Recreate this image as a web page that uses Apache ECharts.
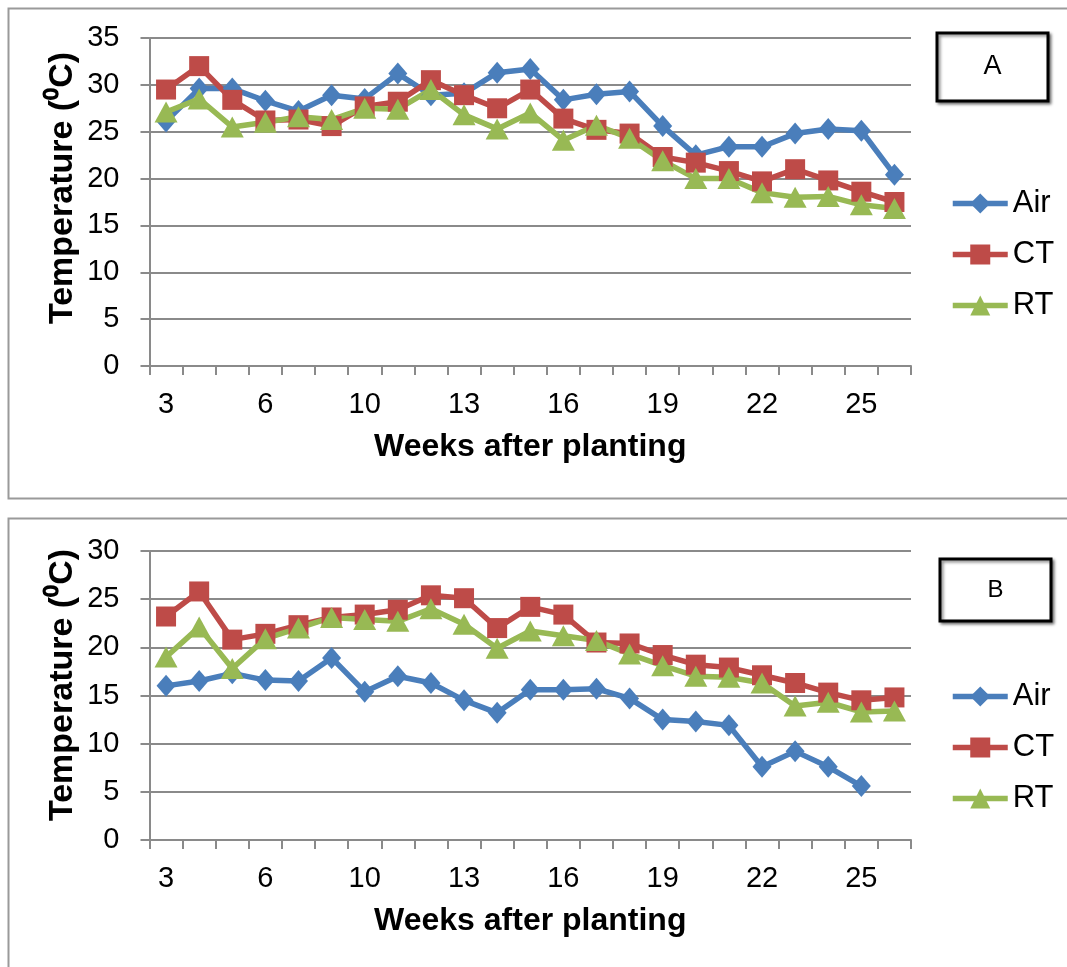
<!DOCTYPE html>
<html>
<head>
<meta charset="utf-8">
<script src="https://cdn.jsdelivr.net/npm/echarts@6/dist/echarts.min.js"></script>
<style>
  html, body { margin: 0; padding: 0; background: #fff; }
  #chart { width: 1067px; height: 967px; }
</style>
</head>
<body>
<div id="chart"></div>
<script>
// Weeks after planting (category axis, one week not sampled)
const weeks = ['3', '4', '5', '6', '7', '8', '10', '11', '12', '13', '14', '15',
               '16', '17', '18', '19', '20', '21', '22', '23', '24', '25', '26'];

// Panel A temperatures (°C)
const airA = [26.1, 29.6, 29.6, 28.3, 27.2, 28.9, 28.5, 31.2, 28.9, 29.1, 31.3, 31.7,
              28.4, 29.0, 29.3, 25.6, 22.5, 23.4, 23.4, 24.8, 25.3, 25.1, 20.4];
const ctA  = [29.5, 32.0, 28.4, 26.2, 26.3, 25.6, 27.7, 28.2, 30.5, 28.9, 27.5, 29.5,
              26.4, 25.2, 24.8, 22.3, 21.7, 20.8, 19.7, 21.0, 19.8, 18.6, 17.5];
const rtA  = [27.1, 28.5, 25.5, 26.0, 26.6, 26.3, 27.5, 27.4, 29.5, 26.8, 25.3, 27.0,
              24.1, 25.7, 24.3, 21.9, 20.0, 20.0, 18.5, 18.0, 18.1, 17.2, 16.8];

// Panel B temperatures (°C); air has no reading for the last week
const airB = [16.0, 16.5, 17.3, 16.6, 16.5, 18.9, 15.4, 17.0, 16.3, 14.5, 13.2, 15.6,
              15.6, 15.7, 14.7, 12.5, 12.3, 11.9, 7.6, 9.2, 7.6, 5.6, null];
const ctB  = [23.2, 25.8, 20.8, 21.4, 22.3, 23.1, 23.4, 23.9, 25.4, 25.1, 22.0, 24.2,
              23.4, 20.5, 20.4, 19.2, 18.2, 17.9, 17.1, 16.3, 15.3, 14.5, 14.8];
const rtB  = [19.0, 22.1, 17.8, 20.9, 22.0, 23.1, 22.9, 22.7, 24.0, 22.4, 19.9, 21.7,
              21.2, 20.7, 19.3, 18.1, 17.0, 16.9, 16.3, 13.9, 14.3, 13.3, 13.4];

const seriesNames = ['Air', 'CT', 'RT'];
const yMaxA = 35, yMaxB = 30, yStep = 5;
const xTitle = 'Weeks after planting';
const yTitle = 'Temperature (\u2070C)';
const panelTags = ['A', 'B'];

const FONT = '"Liberation Sans", Arial, Helvetica, sans-serif';
const AXIS_GRAY = '#8a8a8a';
const BLUE = '#4A7EBB', RED = '#BE4B48', GREEN = '#98B954';
const LINE_W = 5.5;

const chart = echarts.init(document.getElementById('chart'), null, { renderer: 'canvas' });

function makeX(gridIndex) {
  return {
    type: 'category', gridIndex: gridIndex, data: weeks, boundaryGap: true,
    axisLine: { lineStyle: { color: AXIS_GRAY, width: 2 } },
    axisTick: { show: true, interval: 0, length: 9, lineStyle: { color: AXIS_GRAY, width: 2 } },
    axisLabel: { interval: 2, margin: 24, fontSize: 29, color: '#000', fontFamily: FONT },
    splitLine: { show: false },
    name: xTitle, nameLocation: 'middle', nameGap: 65,
    nameTextStyle: { fontSize: 32, fontWeight: 'bold', color: '#000', fontFamily: FONT }
  };
}
function makeY(gridIndex, max) {
  return {
    type: 'value', gridIndex: gridIndex, min: 0, max: max, interval: yStep,
    axisLine: { show: true, lineStyle: { color: AXIS_GRAY, width: 2 } },
    axisTick: { show: true, length: 9, lineStyle: { color: AXIS_GRAY, width: 2 } },
    axisLabel: { margin: 30, fontSize: 29, color: '#000', fontFamily: FONT },
    splitLine: { show: true, lineStyle: { color: AXIS_GRAY, width: 2 } }
  };
}
function makeLine(name, data, idx, symbol, size, color) {
  return {
    type: 'line', name: name, data: data, xAxisIndex: idx, yAxisIndex: idx,
    symbol: symbol, symbolSize: size, showAllSymbol: true,
    lineStyle: { width: LINE_W, color: color },
    itemStyle: { color: color },
    emphasis: { disabled: true },
    animation: false
  };
}
function makeLegend(top) {
  return {
    orient: 'vertical', left: 950, top: top, padding: 0,
    itemWidth: 55, itemHeight: 25, itemGap: 20,
    data: seriesNames,
    lineStyle: { width: LINE_W },
    textStyle: { fontSize: 31, lineHeight: 27, color: '#000', fontFamily: FONT }
  };
}
function panelFrame(y, h) {
  return { type: 'rect', silent: true, z: -1,
    shape: { x: 8.5, y: y, width: 1100, height: h },
    style: { fill: 'none', stroke: '#9a9a9a', lineWidth: 2 } };
}
function tagBox(x, y, w, h, text, fs) {
  return [
    { type: 'rect', silent: true,
      shape: { x: x, y: y, width: w, height: h },
      style: { fill: '#fff', stroke: '#000', lineWidth: 3,
               shadowBlur: 3, shadowColor: 'rgba(0,0,0,0.45)', shadowOffsetX: 2, shadowOffsetY: 2 } },
    { type: 'text', silent: true, x: x + w / 2, y: y + h / 2,
      style: { text: text, font: fs + 'px ' + FONT, fill: '#000', align: 'center', verticalAlign: 'middle' } }
  ];
}
function yName(cx, cy) {
  return { type: 'text', silent: true, x: cx, y: cy, rotation: Math.PI / 2,
    style: { text: yTitle, font: 'bold 34px ' + FONT, fill: '#000', align: 'center', verticalAlign: 'middle' } };
}

chart.setOption({
  animation: false,
  backgroundColor: '#fff',
  grid: [
    { left: 149.5, top: 38, width: 761.5, height: 328 },
    { left: 149.5, top: 551, width: 761.5, height: 289 }
  ],
  xAxis: [makeX(0), makeX(1)],
  yAxis: [makeY(0, yMaxA), makeY(1, yMaxB)],
  legend: [makeLegend(188), makeLegend(681)],
  series: [
    makeLine(seriesNames[0], airA, 0, 'diamond', [19, 22], BLUE),
    makeLine(seriesNames[1], ctA, 0, 'rect', 20, RED),
    makeLine(seriesNames[2], rtA, 0, 'triangle', [23, 21], GREEN),
    makeLine(seriesNames[0], airB, 1, 'diamond', [19, 22], BLUE),
    makeLine(seriesNames[1], ctB, 1, 'rect', 20, RED),
    makeLine(seriesNames[2], rtB, 1, 'triangle', [23, 21], GREEN)
  ],
  graphic: [
    panelFrame(8.5, 490),
    panelFrame(518.5, 500),
    ...tagBox(937, 33, 111, 68, panelTags[0], 27),
    ...tagBox(940, 559, 111, 62, panelTags[1], 24),
    yName(63, 188),
    yName(63, 685)
  ]
});
</script>
</body>
</html>
